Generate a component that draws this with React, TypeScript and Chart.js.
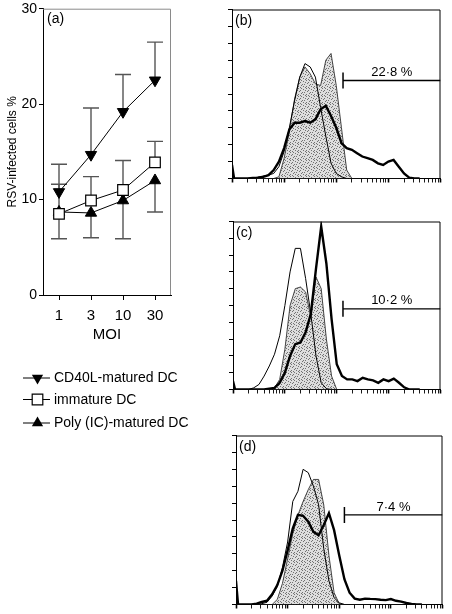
import React, { useEffect, useRef } from 'react';
import { Chart, registerables } from 'chart.js';

Chart.register(...registerables);

const FONT = '"Liberation Sans", Arial, Helvetica, sans-serif';

// ---------- Panel (a) data ----------
const moiLabels = ['1', '3', '10', '30'];
const seriesNames = ['CD40L-matured DC', 'immature DC', 'Poly (IC)-matured DC'];
const cd40lMeans = [10.8, 14.7, 19.2, 22.5];
const cd40lUpper = [13.7, 19.6, 23.1, 26.5];
const immatureMeans = [8.5, 9.9, 11.0, 13.9];
const immatureUpper = [11.6, 12.4, 14.1, 16.1];
const polyMeans = [8.7, 8.6, 9.9, 12.0];
const polyLower = [5.9, 6.0, 5.9, 8.7];
const yTicksA = [0, 10, 20, 30];

// ---------- Histogram data (x in log decades, y in % of max) ----------
const histX = [0, 0.04, 0.3, 0.4, 0.5, 0.6, 0.7, 0.8, 0.9, 1.0, 1.1, 1.2, 1.3, 1.4, 1.5, 1.6, 1.7, 1.8, 1.9, 2.0, 2.1, 2.2, 2.3, 2.4, 2.5, 2.6, 2.7, 2.8, 2.9, 3.0, 3.1, 3.2, 3.3, 3.4, 3.5, 3.6];

const bThin = [0, 0, 0, 0.3, 0.8, 1.5, 2, 3, 7, 16, 30, 46, 60, 68, 66, 60, 42, 25, 9, 3, 1, 0, 0, 0, 0, 0, 0, 0, 0, 0, 0, 0, 0, 0, 0, 0];
const bGray = [0, 0, 0, 0, 0, 0, 0, 0, 1, 12, 28, 47, 60, 66, 62, 56, 55, 70, 74, 55, 30, 5, 0, 0, 0, 0, 0, 0, 0, 0, 0, 0, 0, 0, 0, 0];
const bThick = [8, 0, 0, 0.3, 0.5, 1, 2, 5, 10, 18, 29, 33, 33, 34, 33, 35, 41, 43, 37, 30, 21, 18, 17, 15, 13, 12, 11, 9, 8, 10, 11, 7, 3, 0.5, 0, 0];

const cThin = [0, 0, 0, 1, 3, 8, 14, 21, 32, 50, 70, 84, 84, 66, 45, 20, 4, 0.5, 0, 0, 0, 0, 0, 0, 0, 0, 0, 0, 0, 0, 0, 0, 0, 0, 0, 0];
const cGray = [0, 0, 0, 0, 0, 0, 0, 1, 6, 24, 50, 60, 61, 58, 43, 67, 60, 30, 8, 0, 0, 0, 0, 0, 0, 0, 0, 0, 0, 0, 0, 0, 0, 0, 0, 0];
const cThick = [5, 0, 0, 0, 0, 0, 0.5, 1, 4, 10, 20, 27, 28, 34, 45, 72, 97, 75, 42, 15, 8, 6, 6, 5, 7, 6, 5.4, 4, 6, 5, 6.5, 4, 1.3, 0, 0, 0];

const dThin = [0, 0, 0, 0, 0.5, 1.3, 5, 10.6, 22, 37, 61, 67, 80, 78, 70, 59, 33, 14, 4, 1, 0, 0, 0, 0, 0, 0, 0, 0, 0, 0, 0, 0, 0, 0, 0, 0];
const dGray = [0, 0, 0, 0, 0, 0, 0, 3, 12.5, 27, 42, 53, 61, 68, 74, 74, 59, 29, 7, 0.4, 0, 0, 0, 0, 0, 0, 0, 0, 0, 0, 0, 0, 0, 0, 0, 0];
const dThick = [14, 0, 0, 0.5, 1.5, 2.2, 6, 11.5, 20, 32, 45, 53, 52.5, 49, 43, 41, 47, 54, 44, 29, 15, 7, 3.5, 2.8, 3.5, 3.3, 3.2, 2.8, 2.6, 3.2, 2.2, 1.7, 0.9, 0.4, 0, 0];

const panelLetters = ['(a)', '(b)', '(c)', '(d)'];
const gateLabels = ['22·8 %', '10·2 %', '7·4 %'];
const gateStart = [2.13, 2.12, 2.1];
const gateLevel = [58, 48, 53];
const histThin = [bThin, cThin, dThin];
const histGray = [bGray, cGray, dGray];
const histThick = [bThick, cThick, dThick];

// layout (page pixels)
const histBoxes = [
  { left: 232, top: 4, right: 448, bottom: 183 },
  { left: 233, top: 216, right: 448, bottom: 394 },
  { left: 236, top: 430, right: 450, bottom: 609 },
];

// stipple texture cells for the grey histogram fill
const stippleDots = [[1, 0], [6, 0], [3, 1], [0, 2], [5, 2], [7, 3], [2, 4], [4, 4], [1, 5], [6, 6], [3, 6], [0, 7], [5, 7]];

Chart.defaults.font.family = FONT;
Chart.defaults.color = '#000';

function drawMarker(ctx: CanvasRenderingContext2D, style: string, x: number, y: number, r: number) {
  ctx.beginPath();
  if (style === 'down' || style === 'up') {
    let a = style === 'down' ? Math.PI : 0;
    for (let i = 0; i < 3; i++) {
      const px = x + Math.sin(a) * r;
      const py = y - Math.cos(a) * r;
      if (i === 0) ctx.moveTo(px, py); else ctx.lineTo(px, py);
      a += (2 * Math.PI) / 3;
    }
    ctx.closePath();
    ctx.fillStyle = '#000';
    ctx.fill();
  } else {
    const s = r * Math.SQRT1_2;
    ctx.rect(x - s, y - s, 2 * s, 2 * s);
    ctx.fillStyle = '#fff';
    ctx.fill();
    ctx.lineWidth = 1.2;
    ctx.strokeStyle = '#000';
    ctx.stroke();
  }
}

function PanelA() {
  const ref = useRef<HTMLCanvasElement>(null);
  useEffect(() => {
    const canvas = ref.current!;
    const W = 230, H = 440;
    const area = { left: 43, top: 5, right: 171, bottom: 295 };
    const errSpecs = [
      { means: cd40lMeans, ends: cd40lUpper },
      { means: immatureMeans, ends: immatureUpper },
      { means: polyMeans, ends: polyLower },
    ];
    const errPlugin = {
      id: 'errbars',
      beforeDatasetsDraw(chart: any) {
        const { ctx } = chart;
        const xs = chart.scales.x, ys = chart.scales.y;
        ctx.save();
        ctx.strokeStyle = '#555';
        ctx.lineWidth = 1.4;
        errSpecs.forEach((spec) => {
          spec.means.forEach((m, i) => {
            const px = xs.getPixelForValue(i);
            const p0 = ys.getPixelForValue(m);
            const p1 = ys.getPixelForValue(spec.ends[i]);
            ctx.beginPath();
            ctx.moveTo(px, p0);
            ctx.lineTo(px, p1);
            ctx.moveTo(px - 8, p1);
            ctx.lineTo(px + 8, p1);
            ctx.stroke();
          });
        });
        ctx.restore();
      },
    };
    const framePlugin = {
      id: 'frameA',
      afterDraw(chart: any) {
        const { ctx, chartArea: a } = chart;
        ctx.save();
        ctx.strokeStyle = '#8a8a8a';
        ctx.lineWidth = 1;
        ctx.beginPath();
        ctx.moveTo(a.left, a.top + 0.5);
        ctx.lineTo(a.right - 0.5, a.top + 0.5);
        ctx.lineTo(a.right - 0.5, a.bottom);
        ctx.stroke();
        ctx.fillStyle = '#000';
        ctx.font = `14px ${FONT}`;
        ctx.textBaseline = 'middle';
        ctx.textAlign = 'left';
        ctx.fillText(panelLetters[0], a.left + 4, a.top + 10);
        // legend
        const styles = ['down', 'square', 'up'];
        const ly = [378, 399.5, 423];
        styles.forEach((st, i) => {
          ctx.strokeStyle = '#000';
          ctx.lineWidth = 1;
          ctx.beginPath();
          ctx.moveTo(23, ly[i]);
          ctx.lineTo(50, ly[i]);
          ctx.stroke();
          drawMarker(ctx, st, 37.5, ly[i], st === 'square' ? 7.5 : 6.5);
          ctx.fillStyle = '#000';
          ctx.font = `14px ${FONT}`;
          ctx.textBaseline = 'middle';
          ctx.fillText(seriesNames[i], 54, ly[i] + 0.5);
        });
        ctx.restore();
      },
    };
    const chart = new Chart(canvas, {
      type: 'line',
      data: {
        labels: moiLabels,
        datasets: [
          {
            label: seriesNames[0], data: cd40lMeans, borderColor: '#000', borderWidth: 1,
            pointStyle: 'triangle', pointRotation: 180, pointRadius: 6.5, pointBackgroundColor: '#000',
            pointBorderColor: '#000', pointBorderWidth: 1, order: 1,
          },
          {
            label: seriesNames[1], data: immatureMeans, borderColor: '#000', borderWidth: 1,
            pointStyle: 'rect', pointRadius: 7.5, pointBackgroundColor: '#fff',
            pointBorderColor: '#000', pointBorderWidth: 1.2, order: 2,
          },
          {
            label: seriesNames[2], data: polyMeans, borderColor: '#000', borderWidth: 1,
            pointStyle: 'triangle', pointRadius: 6.5, pointBackgroundColor: '#000',
            pointBorderColor: '#000', pointBorderWidth: 1, order: 3,
          },
        ],
      },
      options: {
        animation: false,
        responsive: false,
        events: [],
        layout: { padding: { left: 0, top: area.top, right: W - area.right, bottom: H - 345 } },
        plugins: { legend: { display: false }, tooltip: { enabled: false }, title: { display: false } },
        scales: {
          x: {
            type: 'category',
            offset: true,
            grid: { display: true, drawOnChartArea: false, drawTicks: true, tickLength: 5, color: '#000' },
            border: { display: true, color: '#000', width: 1 },
            ticks: { color: '#000', font: { size: 15 }, padding: 7, maxRotation: 0 },
            title: { display: true, text: 'MOI', color: '#000', font: { size: 15 }, padding: { top: 0, bottom: 1 } },
            afterFit: (s: any) => { s.height = 345 - area.bottom; s.paddingLeft = 0; s.paddingRight = 0; },
          },
          y: {
            type: 'linear',
            min: yTicksA[0],
            max: yTicksA[yTicksA.length - 1],
            afterBuildTicks: (s: any) => { s.ticks = yTicksA.map((v) => ({ value: v })); },
            grid: { display: true, drawOnChartArea: false, drawTicks: true, tickLength: 4, color: '#000' },
            border: { display: true, color: '#000', width: 1 },
            ticks: { color: '#000', font: { size: 14 }, padding: 2 },
            title: { display: true, text: 'RSV-infected cells %', color: '#000', font: { size: 12 }, padding: { top: 5, bottom: 0 } },
            afterFit: (s: any) => { s.width = area.left; s.paddingTop = 0; s.paddingBottom = 0; },
          },
        },
      } as any,
      plugins: [errPlugin, framePlugin],
    });
    return () => chart.destroy();
  }, []);
  return (
    <canvas ref={ref} width={230} height={440}
      style={{ position: 'absolute', left: 0, top: 0, width: 230, height: 440 }} />
  );
}

function Histogram({ idx }: { idx: number }) {
  const ref = useRef<HTMLCanvasElement>(null);
  const box = histBoxes[idx];
  const cl = box.left - 12;
  const ct = Math.max(0, box.top - 4);
  const cw = box.right + 2 - cl;
  const ch = box.bottom + 5 - ct;
  useEffect(() => {
    const canvas = ref.current!;
    const pc = document.createElement('canvas');
    pc.width = 8; pc.height = 8;
    const pctx = pc.getContext('2d')!;
    pctx.fillStyle = '#dedede';
    pctx.fillRect(0, 0, 8, 8);
    pctx.fillStyle = '#727272';
    stippleDots.forEach(([dx, dy]) => pctx.fillRect(dx, dy, 1, 1));
    const pattern = canvas.getContext('2d')!.createPattern(pc, 'repeat');

    const logTicks: number[] = [];
    for (let d = 0; d < 4; d++) for (let k = 1; k < 10; k++) logTicks.push(d + Math.log10(k));
    logTicks.push(4);

    const pts = (ys: number[]) => histX.map((x, i) => ({ x, y: ys[i] }));

    const labelPlugin = {
      id: 'histLabels',
      afterDraw(chart: any) {
        const { ctx, chartArea: a } = chart;
        const xs = chart.scales.x, ys = chart.scales.y;
        ctx.save();
        ctx.strokeStyle = '#000';
        ctx.lineWidth = 1;
        ctx.beginPath();
        ctx.moveTo(a.left, a.top + 0.5);
        ctx.lineTo(a.right - 0.5, a.top + 0.5);
        ctx.lineTo(a.right - 0.5, a.bottom);
        ctx.stroke();
        ctx.fillStyle = '#000';
        ctx.textBaseline = 'middle';
        ctx.font = `14px ${FONT}`;
        ctx.textAlign = 'left';
        ctx.fillText(panelLetters[idx + 1], a.left + 3, a.top + 12);
        ctx.font = `13px ${FONT}`;
        ctx.textAlign = 'center';
        const gx0 = xs.getPixelForValue(gateStart[idx]);
        const gy = ys.getPixelForValue(gateLevel[idx]);
        ctx.fillText(gateLabels[idx], (gx0 + a.right) / 2, gy - 8);
        ctx.restore();
      },
    };

    const chart = new Chart(canvas, {
      type: 'line',
      data: {
        datasets: [
          {
            data: [{ x: gateStart[idx], y: gateLevel[idx] }, { x: 4, y: gateLevel[idx] }],
            borderColor: '#000', borderWidth: 1.3, fill: false,
            pointStyle: 'line', pointRotation: 90, pointRadius: [8, 0],
            pointBorderColor: '#000', pointBorderWidth: 1.5, order: 0,
          },
          {
            data: pts(histThick[idx]), borderColor: '#000', borderWidth: 2.4,
            pointRadius: 0, fill: false, tension: 0, order: 1,
          },
          {
            data: pts(histThin[idx]), borderColor: '#000', borderWidth: 1,
            pointRadius: 0, fill: false, tension: 0, order: 2,
          },
          {
            data: pts(histGray[idx]), borderColor: '#333', borderWidth: 0.9,
            backgroundColor: pattern, pointRadius: 0, fill: 'origin', tension: 0, order: 3,
          },
        ],
      },
      options: {
        animation: false,
        responsive: false,
        events: [],
        layout: { padding: { left: 0, top: box.top - ct, right: 2, bottom: 0 } },
        plugins: { legend: { display: false }, tooltip: { enabled: false } },
        scales: {
          x: {
            type: 'linear', min: 0, max: 4,
            afterBuildTicks: (s: any) => { s.ticks = logTicks.map((v) => ({ value: v })); },
            grid: {
              display: true, drawOnChartArea: false, drawTicks: true, tickLength: 4, color: '#000',
              tickWidth: (c: any) => (c.tick && Number.isInteger(Math.round(c.tick.value * 1000) / 1000) ? 1.6 : 0.9),
            },
            border: { display: true, color: '#000', width: 1 },
            ticks: { display: false },
            afterFit: (s: any) => { s.height = 5; s.paddingLeft = 0; s.paddingRight = 0; },
          },
          y: {
            type: 'linear', min: 0, max: 100,
            ticks: { display: false, stepSize: 10 },
            grid: { display: true, drawOnChartArea: false, drawTicks: true, tickLength: 4, color: '#000', tickWidth: 1 },
            border: { display: true, color: '#000', width: 1 },
            afterFit: (s: any) => { s.width = 12; s.paddingTop = 0; s.paddingBottom = 0; },
          },
        },
      } as any,
      plugins: [labelPlugin],
    });
    return () => chart.destroy();
  }, [idx]);
  return (
    <canvas ref={ref} width={cw} height={ch}
      style={{ position: 'absolute', left: cl, top: ct, width: cw, height: ch }} />
  );
}

export default function App() {
  return (
    <div style={{ position: 'absolute', left: 0, top: 0, width: 452, height: 614, background: '#fff', overflow: 'hidden' }}>
      <PanelA />
      <Histogram idx={0} />
      <Histogram idx={1} />
      <Histogram idx={2} />
    </div>
  );
}
